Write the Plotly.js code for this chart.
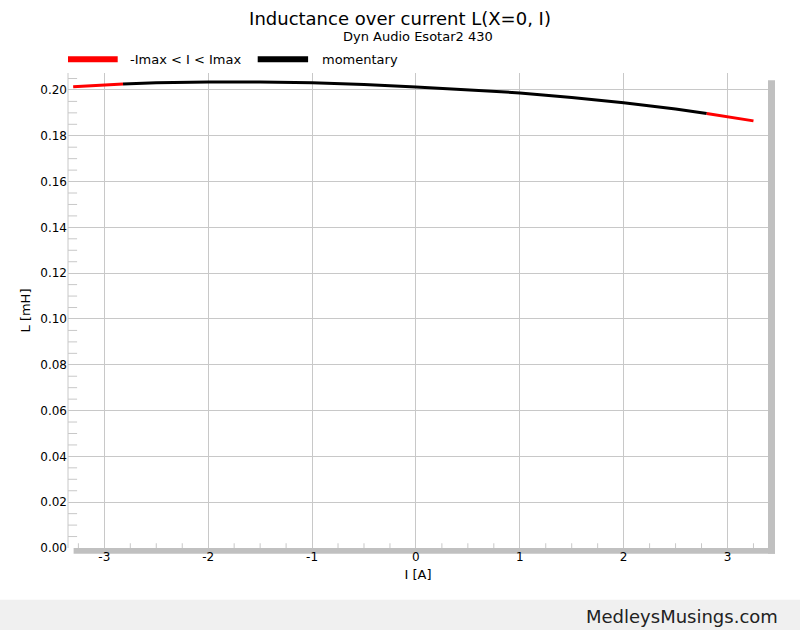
<!DOCTYPE html>
<html><head><meta charset="utf-8"><script src="https://cdn.plot.ly/plotly-3.0.1.min.js"></script>
<style>body{margin:0;background:#fff}</style></head><body><div id="c" style="width:800px;height:630px"></div>
<script>
const redLowI=[-3.3,-3.2,-3.1,-3.0,-2.9,-2.82];
const redLowL=[0.2014,0.2017,0.2020,0.2022,0.2024,0.2026];
const blackI=[-2.82,-2.5,-2.0,-1.5,-1.0,-0.5,0,0.5,1.0,1.5,2.0,2.5,2.8];
const blackL=[0.2026,0.2031,0.2035,0.2035,0.2031,0.2024,0.2013,0.2001,0.1987,0.1967,0.1944,0.1917,0.1897];
const redHighI=[2.8,2.9,3.0,3.1,3.25];
const redHighL=[0.1897,0.1890,0.1883,0.1876,0.1865];
const xTicks=[-3,-2,-1,0,1,2,3];
const yTicks=[0,0.02,0.04,0.06,0.08,0.10,0.12,0.14,0.16,0.18,0.20];
const data=[
 {x:redLowI,y:redLowL,mode:'lines',line:{color:'#ff0000',width:3},showlegend:false},
 {x:blackI,y:blackL,mode:'lines',line:{color:'#000',width:3},showlegend:false},
 {x:redHighI,y:redHighL,mode:'lines',line:{color:'#ff0000',width:3},showlegend:false}
];
const shapes=[
 {type:'rect',xref:'paper',yref:'paper',x0:1,x1:1.01,y0:-0.012,y1:0.985,fillcolor:'#c0c0c0',line:{width:0},layer:'below'},
 {type:'rect',xref:'paper',yref:'paper',x0:0.008,x1:1.01,y0:-0.012,y1:0,fillcolor:'#c0c0c0',line:{width:0},layer:'below'},
 {type:'rect',xref:'paper',yref:'paper',x0:-0.1,x1:1.05,y0:-0.109,y1:-0.175,fillcolor:'#f0f0f0',line:{width:0},layer:'below'},
 {type:'line',xref:'paper',yref:'paper',x0:0.0,x1:0.0,y0:0,y1:1,line:{color:'#c8c8c8',width:1}},
 {type:'line',xref:'paper',yref:'paper',x0:0.0,x1:0.071,y0:1.029,y1:1.029,line:{color:'#ff0000',width:6}},
 {type:'line',xref:'paper',yref:'paper',x0:0.271,x1:0.343,y0:1.029,y1:1.029,line:{color:'#000',width:6}}
];
const minorX=[];for(let v=-3.25;v<=3.3;v+=0.25){if(Math.abs(v-Math.round(v))>0.01)minorX.push(v);}
minorX.forEach(v=>shapes.push({type:'line',xref:'x',yref:'paper',x0:v,x1:v,y0:0,y1:0.01,line:{color:'#c8c8c8',width:1}}));
for(let v=0.005;v<0.207;v+=0.005){if(Math.abs(v/0.02-Math.round(v/0.02))>0.01)shapes.push({type:'line',xref:'paper',yref:'y',x0:0,x1:0.013,y0:v,y1:v,line:{color:'#c8c8c8',width:1}});}
const layout={
 width:800,height:630,margin:{l:68,r:32,t:73,b:82},paper_bgcolor:'#fff',plot_bgcolor:'#fff',
 font:{family:'DejaVu Sans, Verdana, sans-serif',size:12,color:'#000'},
 title:{text:'Inductance over current L(X=0, I)',x:0.5,xanchor:'center',y:0.98,yanchor:'top',font:{size:18}},
 xaxis:{range:[-3.35,3.39],tickvals:xTicks,ticktext:xTicks.map(String),showgrid:true,gridcolor:'#c8c8c8',zeroline:false,ticks:'',showline:false,title:{text:'I [A]',standoff:6,font:{size:13}}},
 yaxis:{range:[0,0.2074],tickvals:yTicks,ticktext:yTicks.map(v=>v.toFixed(2)),showgrid:true,gridcolor:'#c8c8c8',zeroline:false,ticks:'',showline:false,title:{text:'L [mH]',standoff:6,font:{size:13}}},
 shapes:shapes,
 annotations:[
  {text:'Dyn Audio Esotar2 430',xref:'paper',yref:'paper',x:0.5,y:1.076,yanchor:'middle',showarrow:false,font:{size:13}},
  {text:'-Imax < I < Imax',xref:'paper',yref:'paper',x:0.086,y:1.029,xanchor:'left',yanchor:'middle',showarrow:false,font:{size:13}},
  {text:'momentary',xref:'paper',yref:'paper',x:0.36,y:1.029,xanchor:'left',yanchor:'middle',showarrow:false,font:{size:13}},
  {text:'MedleysMusings.com',xref:'paper',yref:'paper',x:1.017,y:-0.145,xanchor:'right',yanchor:'middle',showarrow:false,font:{size:18,color:'#222'}}
 ]
};
Plotly.newPlot('c',data,layout,{displayModeBar:false,staticPlot:true});
</script></body></html>
